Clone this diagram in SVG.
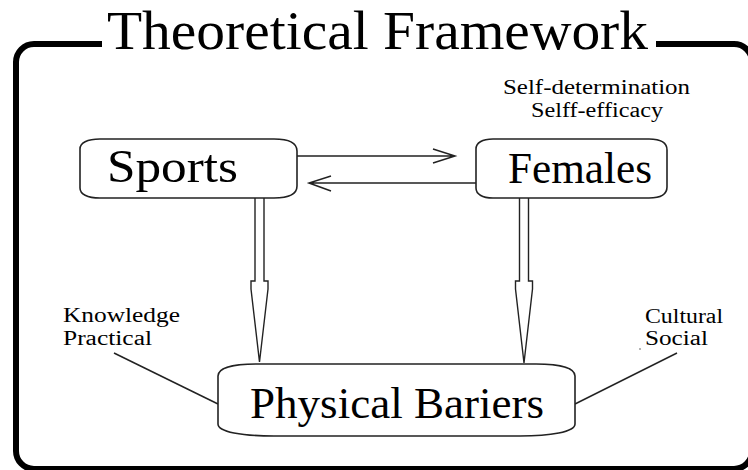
<svg xmlns="http://www.w3.org/2000/svg" width="748" height="470" viewBox="0 0 748 470">
<style>
.t{font-family:"Liberation Serif","Times New Roman",serif;fill:#000}
.box{fill:#fff;stroke:#222;stroke-width:1.6}
.ln{fill:none;stroke:#222;stroke-width:1.5}
.hol{fill:#fff;stroke:#222;stroke-width:1.4;stroke-linejoin:miter}
</style>
<rect width="748" height="470" fill="#fff"/>
<g id="frame">
<path d="M102,44 H34 A18,18 0 0 0 16,62 V451 A18,18 0 0 0 34,469 H734 A18,18 0 0 0 752,451 V62 A18,18 0 0 0 734,44 H656" fill="none" stroke="#000" stroke-width="6"/>
<text class="t" x="107" y="49" font-size="54" textLength="541" lengthAdjust="spacingAndGlyphs">Theoretical Framework</text>
</g>
<g id="connectors">
<path class="ln" d="M297,156 H455 M433,149 L455,156 L433,163"/>
<path class="ln" d="M476,183 H309 M331,176 L309,183 L331,191"/>
<path class="hol" d="M255,198 V281 H251 V289 L259.5,362 L268,289 V281 H264 V198"/>
<path class="hol" d="M519.5,198 V281 H515.5 V289 L524,363 L532.5,289 V281 H528.5 V198"/>
<path class="ln" d="M114,353 L218,404"/>
<path class="ln" d="M677,353 L575,404"/>
</g>
<g id="sports">
<path class="box" d="M100,139 H274 C289,139 297,143 297,151 V186 C297,194 289,198 274,198 H100 C87,198 80,194 80,188 V149 C80,143 87,139 100,139 Z"/>
<text class="t" x="107" y="182" font-size="46" textLength="131" lengthAdjust="spacingAndGlyphs">Sports</text>
</g>
<g id="females">
<path class="box" d="M493,139 H649 C661,139 667,143 667,150 V187 C667,194 661,198 649,198 H493 C482,198 476,194 476,188 V149 C476,143 482,139 493,139 Z"/>
<text class="t" x="508" y="183" font-size="44" textLength="144" lengthAdjust="spacingAndGlyphs">Females</text>
</g>
<g id="females-labels">
<text class="t" x="503" y="94" font-size="20" textLength="187" lengthAdjust="spacingAndGlyphs">Self-determination</text>
<text class="t" x="531" y="117" font-size="20" textLength="132" lengthAdjust="spacingAndGlyphs">Selff-efficacy</text>
</g>
<g id="physical">
<path class="box" d="M256,364 H536 C560,364 575,368 575,376 V424 C575,432 550,436 520,436 H274 C242,436 218,432 218,424 V376 C218,368 233,364 256,364 Z"/>
<text class="t" x="250" y="418" font-size="44" textLength="294" lengthAdjust="spacingAndGlyphs">Physical Bariers</text>
</g>
<g id="left-labels">
<text class="t" x="63" y="322" font-size="20" textLength="117" lengthAdjust="spacingAndGlyphs">Knowledge</text>
<text class="t" x="63" y="345" font-size="20" textLength="89" lengthAdjust="spacingAndGlyphs">Practical</text>
</g>
<g id="right-labels">
<text class="t" x="645" y="323" font-size="20" textLength="78" lengthAdjust="spacingAndGlyphs">Cultural</text>
<text class="t" x="645" y="345" font-size="20" textLength="63" lengthAdjust="spacingAndGlyphs">Social</text>
<circle cx="640" cy="349" r="0.8" fill="#555"/>
</g>
</svg>
